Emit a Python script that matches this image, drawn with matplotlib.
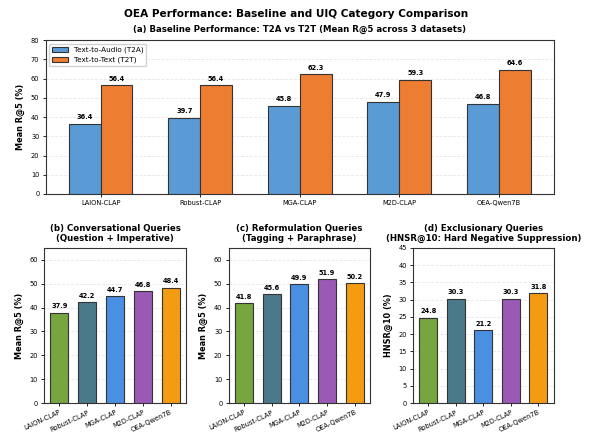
import matplotlib
matplotlib.use('Agg')
import matplotlib.pyplot as plt
import numpy as np

# models
models = ['LAION-CLAP', 'Robust-CLAP', 'MGA-CLAP', 'M2D-CLAP', 'OEA-Qwen7B']

# (a) baseline
t2a = [36.4, 39.7, 45.8, 47.9, 46.8]
t2t = [56.4, 56.4, 62.3, 59.3, 64.6]

# (b)-(d) UIQ categories
conversational = [37.9, 42.2, 44.7, 46.8, 48.4]
reformulation = [41.8, 45.6, 49.9, 51.9, 50.2]
exclusionary = [24.8, 30.3, 21.2, 30.3, 31.8]

model_colors = ['#77A540', '#4A7A8A', '#4A90E2', '#9B59B6', '#F39C12']

plt.rcParams['font.family'] = 'DejaVu Sans'

fig = plt.figure(figsize=(5.92, 4.34), dpi=100)
fig.suptitle('OEA Performance: Baseline and UIQ Category Comparison',
             fontsize=7.6, fontweight='bold', y=0.968, va='center')

# ----------------------------
# (a) Baseline T2A vs T2T
# ----------------------------
ax = fig.add_axes([0.0772, 0.553, 0.8581, 0.3548])
x = np.arange(len(models))
w = 0.32
b1 = ax.bar(x - w / 2, t2a, w, color='#5B9BD5', edgecolor='#333333', linewidth=0.8,
            label='Text-to-Audio (T2A)', zorder=3)
b2 = ax.bar(x + w / 2, t2t, w, color='#ED7D31', edgecolor='#333333', linewidth=0.8,
            label='Text-to-Text (T2T)', zorder=3)
for bars in (b1, b2):
    for b in bars:
        ax.annotate(f'{b.get_height():.1f}', xy=(b.get_x() + b.get_width() / 2, b.get_height()),
                    xytext=(0, 2.5), textcoords='offset points', ha='center', va='bottom',
                    fontsize=4.8, fontweight='bold')
ax.set_xticks(x)
ax.set_xticklabels(models)
ax.set_ylim(0, 80)
ax.set_yticks(np.arange(0, 81, 10))
ax.set_ylabel('Mean R@5 (%)', fontsize=5.9, fontweight='bold')
ax.set_title('(a) Baseline Performance: T2A vs T2T (Mean R@5 across 3 datasets)',
             fontsize=6.2, fontweight='bold', pad=6)
ax.grid(axis='y', linestyle='--', alpha=0.3, linewidth=0.6, zorder=0)
ax.legend(loc='upper left', fontsize=5.2, handlelength=2.2, framealpha=0.9)
ax.tick_params(labelsize=4.8, length=2.5, width=0.6, pad=2)
for s in ax.spines.values():
    s.set_linewidth(0.8)
    s.set_color('#333333')

# ----------------------------
# (b)-(d) category panels
# ----------------------------
panels = [
    ([0.0743, 0.0714, 0.2399, 0.3572], conversational,
     '(b) Conversational Queries\n(Question + Imperative)', 'Mean R@5 (%)', 65, 10),
    ([0.3863, 0.0714, 0.2387, 0.3572], reformulation,
     '(c) Reformulation Queries\n(Tagging + Paraphrase)', 'Mean R@5 (%)', 65, 10),
    ([0.6976, 0.0714, 0.2377, 0.3572], exclusionary,
     '(d) Exclusionary Queries\n(HNSR@10: Hard Negative Suppression)', 'HNSR@10 (%)', 45, 5),
]

for rect, vals, title, ylabel, ymax, step in panels:
    ax = fig.add_axes(rect)
    bars = ax.bar(x, vals, 0.65, color=model_colors, edgecolor='#333333', linewidth=0.8, zorder=3)
    for b in bars:
        ax.annotate(f'{b.get_height():.1f}', xy=(b.get_x() + b.get_width() / 2, b.get_height()),
                    xytext=(0, 2.5), textcoords='offset points', ha='center', va='bottom',
                    fontsize=4.8, fontweight='bold')
    ax.set_xticks(x)
    ax.set_xticklabels(models, rotation=25, ha='right', rotation_mode='anchor')
    ax.set_ylim(0, ymax)
    if ymax == 65:
        ax.set_yticks(np.arange(0, 61, step))
    else:
        ax.set_yticks(np.arange(0, ymax + 1, step))
    ax.set_ylabel(ylabel, fontsize=5.9, fontweight='bold')
    ax.set_title(title, fontsize=6.2, fontweight='bold', pad=5)
    ax.grid(axis='y', linestyle='--', alpha=0.3, linewidth=0.6, zorder=0)
    ax.tick_params(labelsize=4.8, length=2.5, width=0.6, pad=2)
    for s in ax.spines.values():
        s.set_linewidth(0.8)
        s.set_color('#333333')

plt.savefig('out.png', dpi=100)
plt.close()
